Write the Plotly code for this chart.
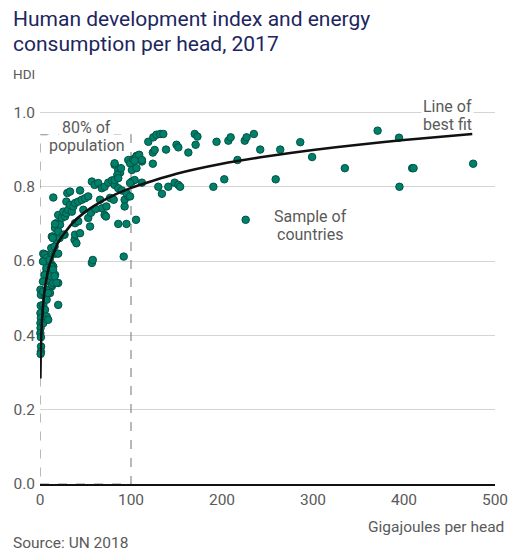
import plotly.graph_objects as go

# Sample of countries: energy use per head (GJ) and HDI, 2017
energy_gj = [
    0.5, 1.0, 0.8, 0.5, 1.0, 0.5, 0.6, 0.4, 1.0, 1.2, 1.0, 0.7,
    3.6, 7.3, 11, 16.5, 20, 9, 13, 14.6, 7.3, 16.5, 20, 11, 13, 7.3, 11, 20,
    3.6, 5.5, 7.3, 5.5, 11, 13, 14.6, 18, 5.5, 7.3, 3.6, 9, 5, 7, 3.3, 10.6,
    7, 12.4, 14.3, 5, 12.4, 16, 3.3, 3.3, 8.8, 12.4, 16,
    14.3, 18, 21.6, 27, 38, 40, 13, 38.5, 44, 16.5, 20, 18, 22, 20, 24, 27.5,
    38.5, 42, 53, 55, 16.5, 14, 25.6,
    25.6, 29, 31, 35, 29, 33, 36.6, 38.5, 42, 46, 49.5, 53, 47.6, 68, 71,
    14.6, 30, 33, 44, 57, 60, 64, 68, 71, 56, 61, 66, 73, 72.5, 77, 81,
    93, 97, 93, 86, 95, 105.5, 57, 58, 92,
    75, 79, 82, 86, 88, 85, 97, 99, 102.5, 106, 82, 86, 90, 95, 99,
    82, 86, 82, 89, 104, 108, 112, 101, 104,
    119, 124.5, 128, 132, 135.5, 124, 126, 138.5, 124, 106, 109, 112, 104,
    101, 106, 99, 112, 130, 134, 141, 148, 152, 154, 163, 150, 152, 170,
    173, 171, 194, 207, 209.5, 225, 227, 217, 202.5, 190.5, 226,
    235, 242, 264, 286, 299, 259, 335, 371, 394.5, 395, 409, 410.5, 476,
]
hdi = [
    0.523, 0.509, 0.48, 0.46, 0.447, 0.433, 0.42, 0.406, 0.395, 0.37, 0.356, 0.35,
    0.62, 0.617, 0.612, 0.62, 0.62, 0.595, 0.59, 0.585, 0.577, 0.563, 0.541, 0.55,
    0.532, 0.523, 0.514, 0.482,
    0.482, 0.469, 0.451, 0.442, 0.545, 0.536, 0.541, 0.542, 0.505, 0.496, 0.433,
    0.442, 0.617, 0.608, 0.599, 0.603,
    0.581, 0.585, 0.577, 0.563, 0.559, 0.559, 0.545, 0.518, 0.514, 0.635, 0.639,
    0.666, 0.657, 0.662, 0.671, 0.657, 0.648, 0.666, 0.671, 0.675, 0.689, 0.68,
    0.702, 0.698, 0.724, 0.716, 0.72,
    0.702, 0.707, 0.716, 0.693, 0.70, 0.662, 0.671,
    0.733, 0.729, 0.738, 0.733, 0.76, 0.751, 0.747, 0.756, 0.76, 0.765, 0.769,
    0.774, 0.738, 0.742, 0.724,
    0.771, 0.783, 0.787, 0.79, 0.814, 0.805, 0.81, 0.796, 0.80, 0.73, 0.74, 0.765,
    0.747, 0.72, 0.77, 0.765,
    0.765, 0.774, 0.747, 0.70, 0.70, 0.711, 0.595, 0.603, 0.612,
    0.811, 0.817, 0.859, 0.845, 0.838, 0.832, 0.872, 0.863, 0.874, 0.883, 0.805,
    0.796, 0.79, 0.783, 0.774,
    0.818, 0.823, 0.863, 0.85, 0.872, 0.877, 0.868, 0.814, 0.818,
    0.921, 0.933, 0.94, 0.942, 0.942, 0.892, 0.899, 0.90, 0.862, 0.881, 0.886,
    0.872, 0.870,
    0.845, 0.85, 0.81, 0.811, 0.80, 0.781, 0.80, 0.811, 0.805, 0.80, 0.892, 0.913,
    0.906, 0.942,
    0.935, 0.913, 0.921, 0.924, 0.933, 0.924, 0.933, 0.872, 0.82, 0.80, 0.711,
    0.942, 0.90, 0.90, 0.92, 0.88, 0.82, 0.85, 0.951, 0.932, 0.80, 0.85, 0.85, 0.862,
]

# Line of best fit
fit_x = [0.4, 0.7, 1, 1.5, 2, 3.5, 5, 10, 20, 35, 50, 75, 100, 150, 200, 250, 300, 350, 400, 475]
fit_y = [0.284, 0.335, 0.37, 0.405, 0.43, 0.485, 0.52, 0.585, 0.65, 0.70, 0.733,
         0.77, 0.797, 0.835, 0.862, 0.882, 0.899, 0.913, 0.926, 0.942]

# 80% of world population lives in countries below this energy use
pop80_gj = 100
pop80_box_top = 0.94

x_ticks = [0, 100, 200, 300, 400, 500]
y_ticks = [0.0, 0.2, 0.4, 0.6, 0.8, 1.0]

W, H = 508, 551
M_L, M_R, M_T, M_B = 40, 13, 104.5, 66.5
Y_MAX = 1.02
PLOT_W = W - M_L - M_R
PLOT_H = H - M_T - M_B


def px_x(px):
    return (px - M_L) / PLOT_W


def px_y(py):
    return (H - M_B - py) / PLOT_H


FONT = "Roboto, Arial, sans-serif"
GREY_TXT = "#5a5a5a"
NAVY = "#1d2660"
TEAL = "#00806a"

fig = go.Figure()

fig.add_trace(go.Scatter(
    x=energy_gj, y=hdi, mode="markers",
    marker=dict(size=7.5, color=TEAL, line=dict(color="#005444", width=1)),
    cliponaxis=False, hoverinfo="x+y", showlegend=False,
))

fig.add_trace(go.Scatter(
    x=fit_x, y=fit_y, mode="lines",
    line=dict(color="#111111", width=2.6, shape="spline", smoothing=0.6),
    showlegend=False, hoverinfo="skip",
))

# dashed box marking the 80% population band
fig.add_shape(
    type="rect", xref="x", yref="y",
    x0=0, x1=pop80_gj, y0=0, y1=pop80_box_top,
    line=dict(color="#8a8a8a", width=1.2, dash="dash"),
    layer="between",
)


def text_line(text, px, py, size, color=GREY_TXT, anchor="left", bg=None, pad=1):
    a = dict(text=text, xref="paper", yref="paper", x=px_x(px), y=px_y(py),
             xanchor=anchor, yanchor="middle", showarrow=False,
             font=dict(family=FONT, size=size, color=color))
    if bg:
        a.update(bgcolor=bg, borderpad=pad)
    return a


annotations = [
    text_line("Human development index and energy", 11, 18, 21, NAVY),
    text_line("consumption per head, 2017", 11, 43, 21, NAVY),
    text_line("HDI", 11, 73, 13.5),
    text_line("Source: UN 2018", 11, 544, 15.5),
    text_line("Gigajoules per head", 506, 528, 15.5, anchor="right"),
    text_line("Line of", 474, 106, 16, anchor="right", bg="white", pad=1),
    text_line("best fit", 474, 124, 16, anchor="right"),
    text_line("Sample of", 310, 216.5, 16, anchor="center"),
    text_line("countries", 310, 234.5, 16, anchor="center"),
    text_line("80% of", 86.5, 127, 16, anchor="center", bg="white", pad=2),
    text_line("population", 86.5, 145, 16, anchor="center", bg="white", pad=1),
]

fig.update_layout(
    width=W, height=H,
    margin=dict(l=M_L, r=M_R, t=M_T, b=M_B, autoexpand=False),
    paper_bgcolor="white", plot_bgcolor="white",
    font=dict(family=FONT, color=GREY_TXT),
    annotations=annotations,
    showlegend=False,
)

fig.update_xaxes(
    range=[0, 500], tickvals=x_ticks, ticktext=[str(v) for v in x_ticks],
    showgrid=False, zeroline=False,
    showline=True, linecolor="#111111", linewidth=2,
    ticks="", ticklabeloverflow="allow",
    tickfont=dict(family=FONT, size=15.5, color=GREY_TXT),
)
fig.update_yaxes(
    range=[0, Y_MAX], tickvals=y_ticks, ticktext=[f"{v:.1f}" for v in y_ticks],
    showgrid=True, gridcolor="#d4d4d4", gridwidth=1,
    zeroline=False, showline=False,
    ticks="", ticklabelstandoff=4, ticklabeloverflow="allow",
    tickfont=dict(family=FONT, size=15.5, color=GREY_TXT),
)

fig.write_html("out.html")
